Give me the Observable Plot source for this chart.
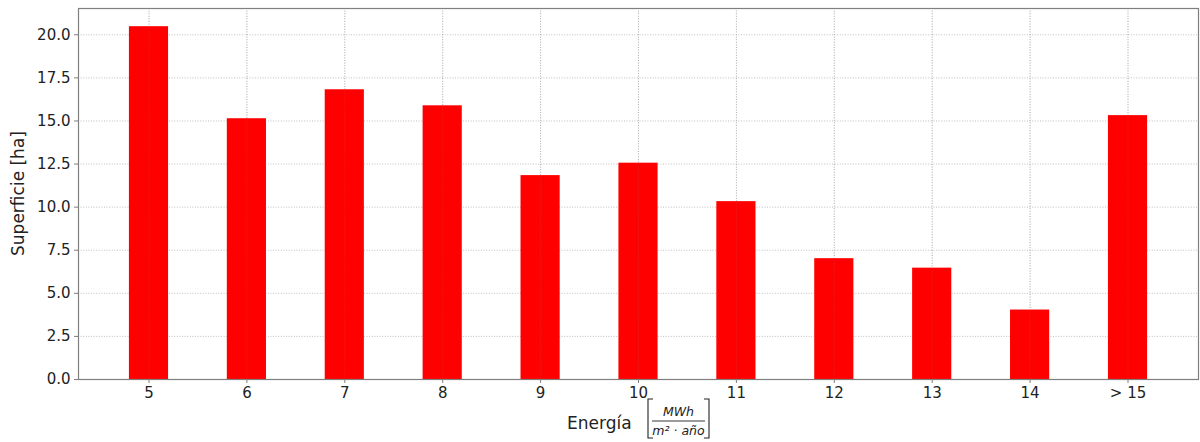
<!DOCTYPE html>
<html>
<head>
<meta charset="utf-8">
<script src="https://cdn.jsdelivr.net/npm/d3@7"></script>
<script src="https://cdn.jsdelivr.net/npm/@observablehq/plot@0.6"></script>
<style>
  html, body { margin: 0; padding: 0; background: #fff; }
  #chart svg { display: block; }
</style>
</head>
<body>
<div id="chart"></div>
<script>
// Surface per annual energy class
const categories = ["5", "6", "7", "8", "9", "10", "11", "12", "13", "14", "> 15"];
const superficie = [20.47, 15.13, 16.81, 15.88, 11.83, 12.55, 10.32, 7.01, 6.46, 4.03, 15.31];
const yTicks = [0, 2.5, 5, 7.5, 10, 12.5, 15, 17.5, 20];

const data = categories.map((c, i) => ({energia: c, superficie: superficie[i]}));

const W = 1200, H = 442;
const mL = 78, mR = 2, mT = 8, mB = 63;
const ink = "#222";
const gridColor = "#b0b0b0";
const frameColor = "#7f7f7f";
const font = "'DejaVu Sans', sans-serif";

const chart = Plot.plot({
  width: W,
  height: H,
  marginLeft: mL,
  marginRight: mR,
  marginTop: mT,
  marginBottom: mB,
  style: {fontFamily: font, fontSize: "15px", color: ink, background: "#fff"},
  x: {type: "band", domain: categories, paddingInner: 0.6, paddingOuter: 0.52, align: 0.5, round: false},
  y: {domain: [0, 21.525]},
  marks: [
    Plot.gridY(yTicks, {stroke: gridColor, strokeOpacity: 1, strokeWidth: 0.8, strokeDasharray: "1,1.6"}),
    Plot.gridX(categories, {stroke: gridColor, strokeOpacity: 1, strokeWidth: 0.8, strokeDasharray: "1,1.6"}),
    Plot.barY(data, {x: "energia", y: "superficie", fill: "#ff0000"}),
    Plot.gridX(categories, {stroke: "#808080", strokeOpacity: 0.35, strokeWidth: 0.8, strokeDasharray: "1,1.6"}),
    Plot.frame({stroke: frameColor, strokeWidth: 1.2}),
    Plot.axisY(yTicks, {
      tickFormat: d => d.toFixed(1),
      tickSize: 4, tickPadding: 4, stroke: frameColor, fill: ink,
      fontSize: 15, label: null
    }),
    Plot.axisX(categories, {
      tickSize: 4, tickPadding: 4, stroke: frameColor, fill: ink,
      fontSize: 15, label: null
    })
  ]
});

const svg = d3.select(chart);

// Y axis title
svg.append("text")
  .attr("transform", `translate(24, ${(mT + H - mB) / 2}) rotate(-90)`)
  .attr("text-anchor", "middle")
  .attr("font-family", font)
  .attr("font-size", 17)
  .attr("fill", ink)
  .text("Superficie [ha]");

// X axis title: Energía [MWh / (m² · año)]
const xl = svg.append("g")
  .attr("font-family", font)
  .attr("fill", ink);

xl.append("text")
  .attr("x", 567).attr("y", 429)
  .attr("text-anchor", "start")
  .attr("font-size", 17)
  .text("Energía");

const bTop = 399, bBot = 438, bL = 648, bR = 709;
xl.append("path")
  .attr("d", `M${bL + 5},${bTop}H${bL}V${bBot}H${bL + 5}`)
  .attr("fill", "none").attr("stroke", ink).attr("stroke-width", 1.1);
xl.append("path")
  .attr("d", `M${bR - 5},${bTop}H${bR}V${bBot}H${bR - 5}`)
  .attr("fill", "none").attr("stroke", ink).attr("stroke-width", 1.1);

const fx = (bL + bR) / 2;
xl.append("text")
  .attr("x", fx).attr("y", 416)
  .attr("text-anchor", "middle")
  .attr("font-size", 12.5).attr("font-style", "italic")
  .text("MWh");
xl.append("line")
  .attr("x1", bL + 4).attr("x2", bR - 4)
  .attr("y1", 421).attr("y2", 421)
  .attr("stroke", ink).attr("stroke-width", 0.9);
xl.append("text")
  .attr("x", fx).attr("y", 435)
  .attr("text-anchor", "middle")
  .attr("font-size", 12.5).attr("font-style", "italic")
  .text("m² · año");

document.getElementById("chart").appendChild(chart);
</script>
</body>
</html>
